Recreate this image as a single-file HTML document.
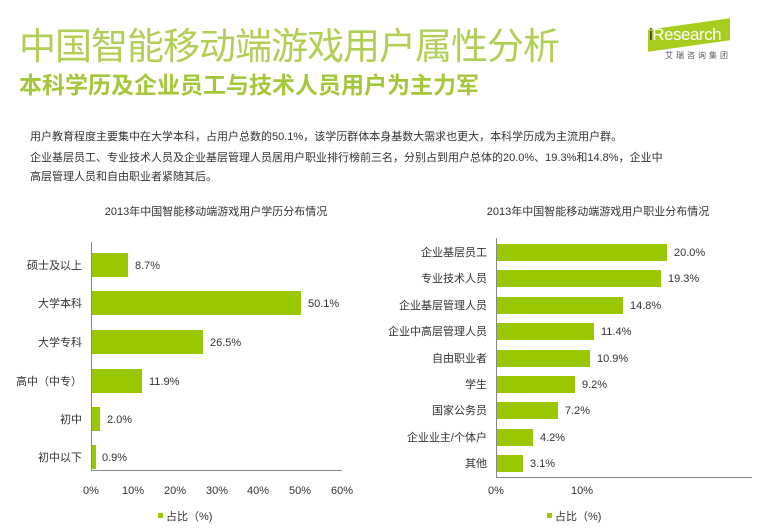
<!DOCTYPE html>
<html><head><meta charset="utf-8"><style>
body{margin:0;width:769px;height:530px;background:#fff;overflow:hidden;position:relative;font-family:"Liberation Sans","Noto Sans CJK SC",sans-serif;}
.a{position:absolute;white-space:nowrap;}
</style></head><body>
<div class="a" style="left:19px;top:16px;font-size:37px;color:#b0cf55;letter-spacing:-1px;">中国智能移动端游戏用户属性分析</div>
<div class="a" style="left:19px;top:66px;font-size:23px;font-weight:bold;color:#a3c83a;">本科学历及企业员工与技术人员用户为主力军</div>
<div class="a" style="left:648px;top:24px;width:82px;height:22px;background:#a6cc1e;transform:skewY(-8deg);"></div>
<div class="a" style="left:649px;top:25px;font-size:17px;color:#fff;letter-spacing:-0.5px;"><span style="color:#334">i</span>Research</div>
<div class="a" style="left:665px;top:50px;font-size:8px;color:#555;letter-spacing:3px;">艾瑞咨询集团</div>
<div class="a" style="left:30px;top:128px;font-size:11px;color:#333;">用户教育程度主要集中在大学本科，占用户总数的50.1%，该学历群体本身基数大需求也更大，本科学历成为主流用户群。</div>
<div class="a" style="left:30px;top:149px;font-size:11px;color:#333;line-height:19px;">企业基层员工、专业技术人员及企业基层管理人员居用户职业排行榜前三名，分别占到用户总体的20.0%、19.3%和14.8%，企业中<br>高层管理人员和自由职业者紧随其后。</div>
<svg class="a" style="left:0;top:0" width="769" height="530" font-family="Liberation Sans,Noto Sans CJK SC,sans-serif" font-size="11" fill="#333">
<text x="216" y="215" text-anchor="middle">2013年中国智能移动端游戏用户学历分布情况</text>
<text x="598" y="215" text-anchor="middle">2013年中国智能移动端游戏用户职业分布情况</text>
<g stroke="#888" stroke-width="1"><line x1="91.5" y1="242" x2="91.5" y2="470"/><line x1="91" y1="470.5" x2="342" y2="470.5"/>
<line x1="496.5" y1="238" x2="496.5" y2="477"/><line x1="496" y1="477.5" x2="752" y2="477.5"/></g>
<g fill="#99c800">
<rect x="92" y="253" width="36" height="24"/><rect x="92" y="291" width="209" height="24"/><rect x="92" y="330" width="111" height="24"/>
<rect x="92" y="369" width="50" height="24"/><rect x="92" y="407" width="8" height="24"/><rect x="92" y="445" width="4" height="24"/>
<rect x="497" y="244" width="170" height="17"/><rect x="497" y="270" width="164" height="17"/><rect x="497" y="297" width="126" height="17"/>
<rect x="497" y="323" width="97" height="17"/><rect x="497" y="350" width="93" height="17"/><rect x="497" y="376" width="78" height="17"/>
<rect x="497" y="402" width="61" height="17"/><rect x="497" y="429" width="36" height="17"/><rect x="497" y="455" width="26" height="17"/>
<rect x="158" y="513" width="5" height="5"/><rect x="547" y="513" width="5" height="5"/></g>
<g text-anchor="end"><text x="82" y="269">硕士及以上</text><text x="82" y="307">大学本科</text><text x="82" y="346">大学专科</text><text x="82" y="385">高中（中专）</text><text x="82" y="423">初中</text><text x="82" y="461">初中以下</text>
<text x="487" y="256">企业基层员工</text><text x="487" y="282">专业技术人员</text><text x="487" y="309">企业基层管理人员</text><text x="487" y="335">企业中高层管理人员</text><text x="487" y="362">自由职业者</text><text x="487" y="388">学生</text><text x="487" y="414">国家公务员</text><text x="487" y="441">企业业主/个体户</text><text x="487" y="467">其他</text></g>
<text x="135" y="269">8.7%</text><text x="308" y="307">50.1%</text><text x="210" y="346">26.5%</text><text x="149" y="385">11.9%</text><text x="107" y="423">2.0%</text><text x="102" y="461">0.9%</text>
<text x="674" y="256">20.0%</text><text x="668" y="282">19.3%</text><text x="630" y="309">14.8%</text><text x="601" y="335">11.4%</text><text x="597" y="362">10.9%</text><text x="582" y="388">9.2%</text><text x="565" y="414">7.2%</text><text x="540" y="441">4.2%</text><text x="530" y="467">3.1%</text>
<g text-anchor="middle"><text x="91" y="494">0%</text><text x="133" y="494">10%</text><text x="175" y="494">20%</text><text x="217" y="494">30%</text><text x="258" y="494">40%</text><text x="300" y="494">50%</text><text x="342" y="494">60%</text>
<text x="496" y="494">0%</text><text x="582" y="494">10%</text></g>
<text x="166" y="520">占比（%)</text><text x="555" y="520">占比（%)</text>
</svg>
</body></html>
